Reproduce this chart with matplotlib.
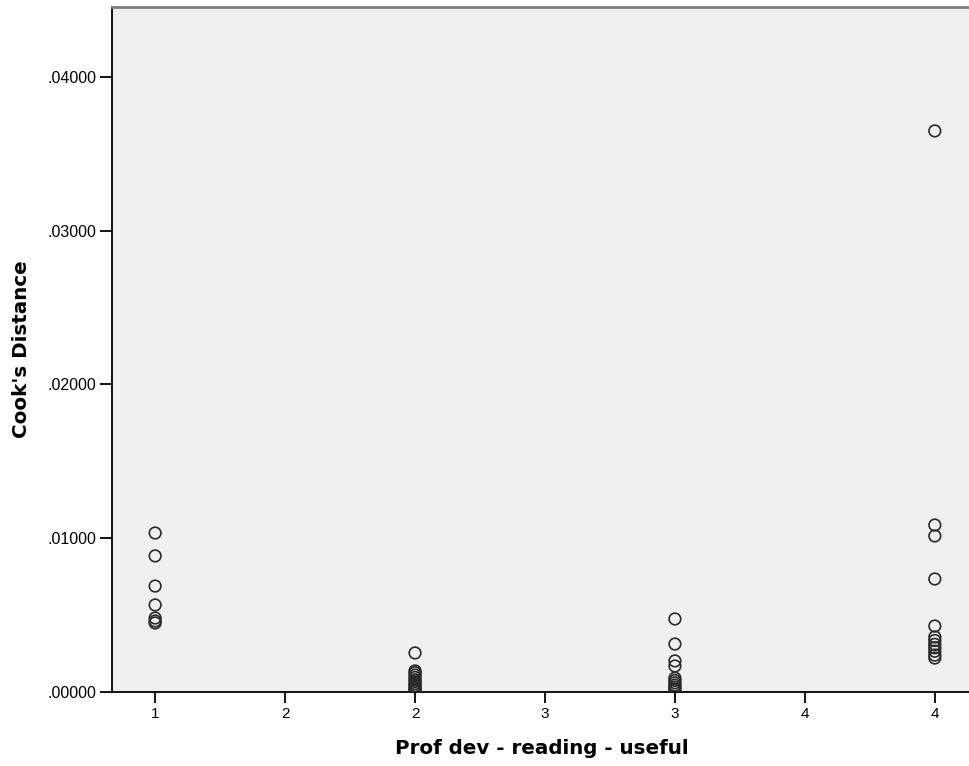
import matplotlib
matplotlib.use("Agg")
import matplotlib.pyplot as plt
import numpy as np

plt.rcParams['font.family'] = ['Liberation Sans', 'DejaVu Sans']

# Cook's distance per answer category
cat1 = [0.01034, 0.00885, 0.00689, 0.00566, 0.00481, 0.00462, 0.00449]
cat2 = [0.00254, 0.00137, 0.00125, 0.00110, 0.00095, 0.00080, 0.00068,
        0.00055, 0.00042, 0.00030, 0.00020, 0.00010, 0.00004]
cat3 = [0.00475, 0.00312, 0.00202, 0.00169, 0.00090, 0.00075, 0.00060,
        0.00045, 0.00032, 0.00020, 0.00010]
cat4 = [0.03649, 0.01086, 0.01015, 0.00735, 0.00429, 0.00358, 0.00335,
        0.00310, 0.00288, 0.00265, 0.00240, 0.00221]

xtick_pos = [1, 1.5, 2, 2.5, 3, 3.5, 4]
xtick_labels = ['1', '2', '2', '3', '3', '4', '4']
ytick_pos = [0.0, 0.01, 0.02, 0.03, 0.04]
ytick_labels = ['.00000', '.01000', '.02000', '.03000', '.04000']

fig = plt.figure(figsize=(9.69, 7.66), dpi=100)
ax = fig.add_axes([112 / 969, 74 / 766, 1 - 112 / 969 + 0.002, (692 - 7) / 766])
ax.set_facecolor('#f0f0f0')

for x, vals in zip([1, 2, 3, 4], [cat1, cat2, cat3, cat4]):
    ax.scatter([x] * len(vals), vals, s=70, facecolors='none',
               edgecolors='#2a2a2a', linewidths=1.2, zorder=3)

ax.set_xlim(0.834, 4.139)
ax.set_ylim(0, 0.04455)
ax.set_xticks(xtick_pos)
ax.set_xticklabels(xtick_labels)
ax.set_yticks(ytick_pos)
ax.set_yticklabels(ytick_labels)
ax.tick_params(axis='both', direction='out', length=9, width=1.3,
               labelsize=11.5, colors='black', pad=2)
ax.tick_params(axis='x', length=8, pad=3, labelsize=11)

ax.spines['right'].set_visible(False)
ax.spines['top'].set_color('#808080')
ax.spines['top'].set_linewidth(2)
ax.spines['left'].set_linewidth(1.3)
ax.spines['bottom'].set_linewidth(1.3)

ax.set_xlabel('Prof dev - reading - useful', fontsize=14.3, fontweight='bold',
              family='DejaVu Sans', labelpad=13)
ax.set_ylabel("Cook's Distance", fontsize=14.3, fontweight='bold',
              family='DejaVu Sans', labelpad=12)

fig.savefig('out.png', dpi=100)
